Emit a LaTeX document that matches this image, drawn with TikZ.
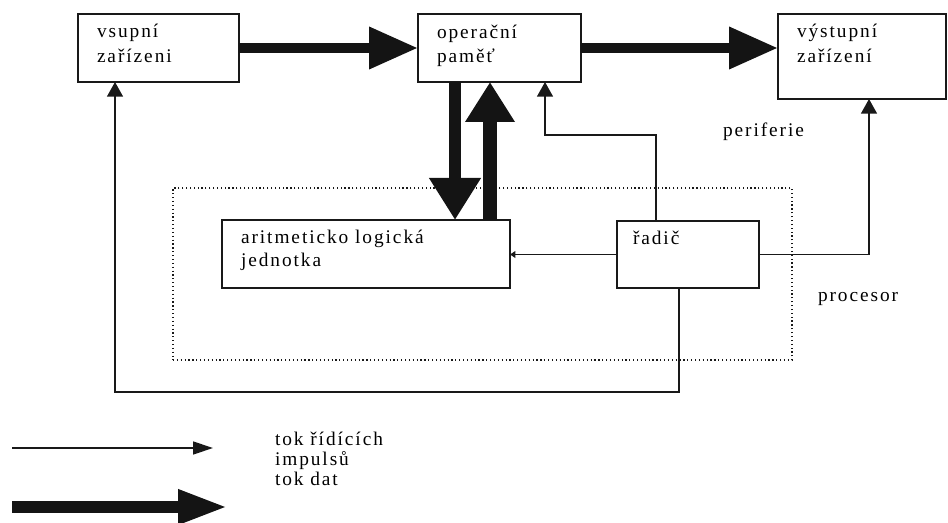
\documentclass[tikz,border=0pt]{standalone}
\usepackage{fontspec}
\setmainfont{Liberation Serif}[LetterSpace=10]
\usetikzlibrary{arrows.meta}
\begin{document}
\begin{tikzpicture}[x=0.75pt,y=-0.75pt,
  box/.style={draw=black!90, line width=1.1pt, inner sep=0pt, outer sep=0pt},
  lbl/.style={anchor=base west, inner sep=0pt, outer sep=0pt, font=\fontsize{14.5pt}{17pt}\selectfont},
  ctrl/.style={draw=black!90, line width=1pt},
  ctrltip/.style={-{Triangle[length=11pt,width=12pt]}},
  datatip/.style={draw=black!92, line width=7.5pt, -{Triangle[length=36.75pt,width=30pt]}},
]
\useasboundingbox (0,0) rectangle (948,523);

% boxes
\node[box, minimum width=120.75pt, minimum height=51pt] (inp) at (158.5,48) {};
\node[box, minimum width=122.25pt, minimum height=51pt] (mem) at (499.5,48) {};
\node[box, minimum width=126pt, minimum height=63.75pt] (out) at (862,56.5) {};
\node[box, minimum width=216pt, minimum height=51pt] (alu) at (366,254) {};
\node[box, minimum width=106.5pt, minimum height=50.25pt] (ctl) at (688,254.5) {};
\node[draw=black!90, dotted, line width=0.9pt, inner sep=0pt, minimum width=464.25pt, minimum height=129pt] (proc) at (482.5,274) {};

% texts
\node[lbl] (t1a) at (97,38) {vsupní};
\node[lbl] (t1b) at (97,63) {zařízeni};
\node[lbl] (t2a) at (437,39) {operační};
\node[lbl] (t2b) at (437,63) {paměť};
\node[lbl] (t3a) at (797,38) {výstupní};
\node[lbl] (t3b) at (797,63) {zařízení};
\node[lbl] (tper) at (723,137) {periferie};
\node[lbl] (t4a) at (241,244) {aritmeticko logická};
\node[lbl] (t4b) at (241,267) {jednotka};
\node[lbl] (t5) at (633,245) {řadič};
\node[lbl] (tproc) at (818,302) {procesor};
\node[lbl] (lg1) at (275,445) {tok řídících};
\node[lbl] (lg2) at (275,465) {impulsů};
\node[lbl] (lg3) at (275,485) {tok dat};

% data flow (thick)
\draw[datatip] (inp.east) -- (mem.west);
\draw[datatip] (mem.east) -- (mem.east -| out.west);
\draw[draw=black!92, line width=9pt, -{Triangle[length=31.5pt,width=36.75pt]}] (455,0 |- mem.south) -- (455,0 |- alu.north);
\draw[draw=black!92, line width=11pt, -{Triangle[length=30pt,width=35.25pt]}] (490,0 |- alu.north) -- (490,0 |- mem.south);

% control flow (thin)
\draw[ctrl, ctrltip] (656,0 |- ctl.north) -- (656,135) -- (545,135) -- (545,0 |- mem.south);
\draw[ctrl, -{Triangle[length=4pt,width=5pt]}] (ctl.west) -- (ctl.west -| alu.east);
\draw[ctrl, ctrltip] (ctl.east) -- (869,0 |- ctl.east) -- (869,0 |- out.south);
\draw[ctrl, ctrltip] (679,0 |- ctl.south) -- (679,392) -- (115,392) -- (115,0 |- inp.south);

% legend
\coordinate (l1s) at (12,448);
\coordinate (l1e) at (213,448);
\coordinate (l2s) at (12,507);
\coordinate (l2e) at (228,507);
\draw[ctrl, -{Triangle[length=15pt,width=9.75pt]}] (l1s) -- (l1e);
\draw[draw=black!92, line width=9pt, -{Triangle[length=37.5pt,width=24pt]}] (l2s) -- (l2e);
\end{tikzpicture}
\end{document}
